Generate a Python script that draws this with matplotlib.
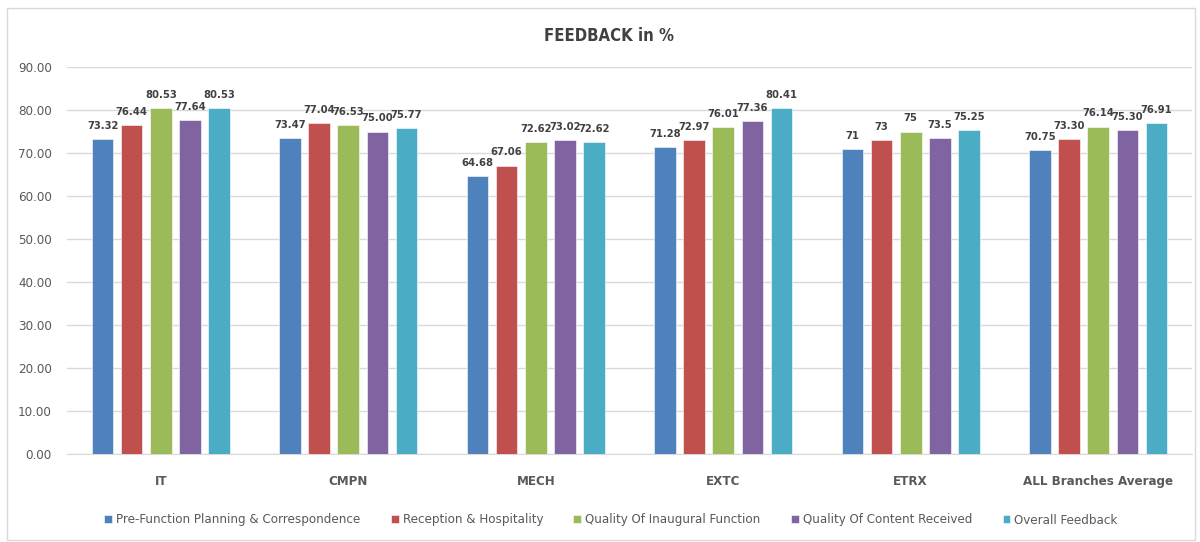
import numpy as np
import matplotlib
matplotlib.use('Agg')
import matplotlib.pyplot as plt
from matplotlib.patches import Rectangle

plt.rcParams['font.family'] = ['DejaVu Sans']
plt.rcParams['font.stretch'] = 'condensed'

# data
branches = ['IT', 'CMPN', 'MECH', 'EXTC', 'ETRX', 'ALL Branches Average']
series = ['Pre-Function Planning & Correspondence', 'Reception & Hospitality',
          'Quality Of Inaugural Function', 'Quality Of Content Received', 'Overall Feedback']
pre_function = [73.32, 73.47, 64.68, 71.28, 71, 70.75]
reception = [76.44, 77.04, 67.06, 72.97, 73, 73.30]
inaugural = [80.53, 76.53, 72.62, 76.01, 75, 76.14]
content = [77.64, 75.00, 73.02, 77.36, 73.5, 75.30]
overall = [80.53, 75.77, 72.62, 80.41, 75.25, 76.91]
# labels as printed on the chart (some without decimals)
pre_function_lbl = ['73.32', '73.47', '64.68', '71.28', '71', '70.75']
reception_lbl = ['76.44', '77.04', '67.06', '72.97', '73', '73.30']
inaugural_lbl = ['80.53', '76.53', '72.62', '76.01', '75', '76.14']
content_lbl = ['77.64', '75.00', '73.02', '77.36', '73.5', '75.30']
overall_lbl = ['80.53', '75.77', '72.62', '80.41', '75.25', '76.91']

values = [pre_function, reception, inaugural, content, overall]
labels = [pre_function_lbl, reception_lbl, inaugural_lbl, content_lbl, overall_lbl]
colors = ['#4F81BD', '#C0504D', '#9BBB59', '#8064A2', '#4BACC6']

fig = plt.figure(figsize=(12, 5.42), dpi=100)
# chart border
fig.patches.append(Rectangle((7 / 1200, 2 / 542), 1188 / 1200, 532 / 542, transform=fig.transFigure,
                             fill=False, edgecolor='#D9D9D9', linewidth=1))

ax = fig.add_axes([67 / 1200, 1 - 454 / 542, 1125 / 1200, (454 - 67) / 542])

x = np.arange(len(branches))
pitch = 0.155
width = 0.115
for i, (vals, lbls, col, name) in enumerate(zip(values, labels, colors, series)):
    pos = x + (i - 2) * pitch
    bars = ax.bar(pos, vals, width, color=col, label=name, edgecolor='white', linewidth=0.4, zorder=3)
    for b, t in zip(bars, lbls):
        ax.text(b.get_x() + b.get_width() / 2, b.get_height() + 1.9, t, ha='center', va='bottom',
                fontsize=8, fontweight='bold', color='#404040')

ax.set_xlim(-0.5, len(branches) - 0.5)
ax.set_ylim(0, 90)
ax.set_yticks(np.arange(0, 91, 10))
ax.set_yticklabels(['%.2f' % v for v in np.arange(0, 91, 10)], fontsize=9.5, color='#595959')
ax.set_xticks(x)
ax.set_xticklabels(branches, fontsize=9.5, fontweight='bold', color='#595959')
ax.tick_params(axis='both', length=0)
ax.tick_params(axis='x', pad=15)
ax.tick_params(axis='y', pad=11)
ax.grid(axis='y', color='#D9D9D9', linewidth=1, zorder=0)
for s in ['top', 'right', 'left']:
    ax.spines[s].set_visible(False)
ax.spines['bottom'].set_color('#D9D9D9')

fig.text(609 / 1200, 1 - 36 / 542, 'FEEDBACK in %', ha='center', va='center', fontsize=12,
         fontweight='bold', color='#404040')

leg = fig.legend(loc='center', bbox_to_anchor=(611 / 1200, 1 - 520 / 542), ncol=5, frameon=False,
                 fontsize=9.5, handlelength=0.6, handleheight=0.6, handletextpad=0.3, columnspacing=2.3)
for t in leg.get_texts():
    t.set_color('#595959')

fig.savefig('out.png', dpi=100)
